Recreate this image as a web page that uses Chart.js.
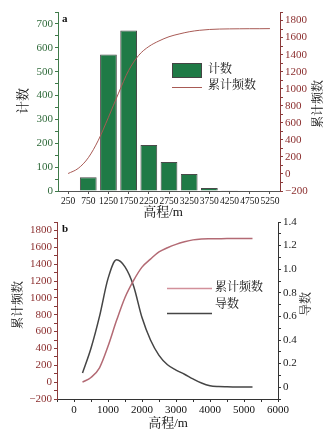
<!DOCTYPE html>
<html lang="zh">
<head>
<meta charset="UTF-8">
<title>高程频数</title>
<script src="https://cdn.jsdelivr.net/npm/chart.js"></script>
<style>
    body { margin: 0; background: #fff; }
    #wrap { position: relative; width: 332px; height: 434px; overflow: hidden; }
    canvas { position: absolute; left: 0; }
    #chartA { top: 0; }
    #chartB { top: 212px; }
</style>
</head>
<body>
<div id="wrap">
    <canvas id="chartA" width="332" height="222"></canvas>
    <canvas id="chartB" width="332" height="222"></canvas>
</div>
<script>
// panel a: histogram (bin centres in m)
var elevBins = [250, 750, 1250, 1750, 2250, 2750, 3250, 3750, 4250, 4750, 5250];
var counts = [0, 58, 572, 672, 193, 122, 71, 13, 3, 2, 0];

// smooth curves, read every 250 m
var elevCurve = [250, 500, 750, 1000, 1250, 1500, 1750, 2000, 2250, 2500, 2750,
                 3000, 3250, 3500, 3750, 4000, 4250, 4500, 4750, 5000, 5250];
var cumA = [5, 65, 190, 396, 665, 948, 1214, 1392, 1495, 1560, 1610,
            1642, 1668, 1685, 1695, 1700, 1702, 1703, 1704, 1704, 1705];

// panel b
var cumB = [0, 55, 170, 425, 730, 1005, 1205, 1365, 1460, 1545, 1595,
            1635, 1665, 1688, 1698, 1701, 1702, 1703, 1703, 1703, 1704];
var derivB = [0.12, 0.33, 0.60, 0.92, 1.08, 1.02, 0.86, 0.59, 0.40, 0.27, 0.19,
              0.145, 0.11, 0.07, 0.035, 0.012, 0.005, 0.003, 0.002, 0.001, 0.001];

// tick labels
var countTicks = [0, 100, 200, 300, 400, 500, 600, 700];
var cumTicks = [-200, 0, 200, 400, 600, 800, 1000, 1200, 1400, 1600, 1800];
var elevTicks = [0, 1000, 2000, 3000, 4000, 5000, 6000];
var derivTicks = [0, 0.2, 0.4, 0.6, 0.8, 1.0, 1.2, 1.4];

var SERIF = '"Liberation Serif", "Noto Serif CJK SC", "Noto Sans CJK SC", serif';
Chart.defaults.font.family = SERIF;

function withMinor(majors, lo, hi) {
    // majors plus midpoints between them
    var step = majors[1] - majors[0];
    var out = [];
    for (var v = majors[0] - step / 2; v <= majors[majors.length - 1] + step / 2 + 1e-9; v += step / 2) {
        if (v >= lo - 1e-9 && v <= hi + 1e-9) out.push(Math.round(v * 1000) / 1000);
    }
    return out;
}

function isMajor(majors, v) {
    return majors.some(function (m) { return Math.abs(m - v) < 1e-6; });
}

function fmt(v) {
    return String(v).replace('-', '\u2212');
}

function vText(ctx, text, x, y, size) {
    ctx.save();
    ctx.translate(x, y);
    ctx.rotate(-Math.PI / 2);
    ctx.font = size + 'px ' + SERIF;
    ctx.textAlign = 'center';
    ctx.textBaseline = 'middle';
    ctx.fillStyle = '#111';
    ctx.fillText(text, 0, 0);
    ctx.restore();
}

function hText(ctx, text, x, y, size, align, bold) {
    ctx.save();
    ctx.font = (bold ? 'bold ' : '') + size + 'px ' + SERIF;
    ctx.textAlign = align;
    ctx.textBaseline = 'middle';
    ctx.fillStyle = '#111';
    ctx.fillText(text, x, y);
    ctx.restore();
}

var GREEN = '#1f7a46';
var GREEN_AX = '#3f7a4a';
var BROWN_AX = '#8b3a3a';
var CUM_A = '#a85a55';
var CUM_B = '#b36a74';
var DERIV = '#454545';

var textA = {
    id: 'textA',
    afterDraw: function (chart) {
        var ctx = chart.ctx;
        hText(ctx, 'a', 62, 19, 11, 'left', true);
        vText(ctx, '计数', 24, 101, 13);
        vText(ctx, '累计频数', 319, 104, 12);
        hText(ctx, '高程/m', 163, 213, 13, 'center');
        // legend
        ctx.save();
        ctx.fillStyle = GREEN;
        ctx.strokeStyle = '#444';
        ctx.lineWidth = 1;
        ctx.fillRect(172, 63, 30, 15);
        ctx.strokeRect(172.5, 63.5, 29, 14);
        ctx.strokeStyle = CUM_A;
        ctx.beginPath();
        ctx.moveTo(172, 87.5);
        ctx.lineTo(202, 87.5);
        ctx.stroke();
        ctx.restore();
        hText(ctx, '计数', 208, 70, 12, 'left');
        hText(ctx, '累计频数', 208, 86, 12, 'left');
    }
};

var textB = {
    id: 'textB',
    afterDraw: function (chart) {
        var ctx = chart.ctx;
        hText(ctx, 'b', 62, 17, 11, 'left', true);
        vText(ctx, '累计频数', 19, 93, 12);
        vText(ctx, '导数', 307, 92, 12);
        hText(ctx, '高程/m', 168, 212, 13, 'center');
        ctx.save();
        ctx.lineWidth = 1.5;
        ctx.strokeStyle = '#d2909a';
        ctx.beginPath();
        ctx.moveTo(167, 76.5);
        ctx.lineTo(212, 76.5);
        ctx.stroke();
        ctx.strokeStyle = DERIV;
        ctx.beginPath();
        ctx.moveTo(167, 101.5);
        ctx.lineTo(212, 101.5);
        ctx.stroke();
        ctx.restore();
        hText(ctx, '累计频数', 215, 76, 12, 'left');
        hText(ctx, '导数', 215, 93, 12, 'left');
    }
};

function yAxis(pos, min, max, majors, color, labelColor, width, format) {
    return {
        position: pos,
        min: min,
        max: max,
        afterBuildTicks: function (s) {
            s.ticks = withMinor(majors, min, max).map(function (v) { return { value: v }; });
        },
        afterFit: function (s) { s.width = width; },
        ticks: {
            autoSkip: false,
            color: labelColor,
            font: { size: 11 },
            padding: 2,
            callback: function (v) { return isMajor(majors, v) ? format(v) : ''; }
        },
        grid: { drawOnChartArea: false, tickLength: 3, color: color },
        border: { color: color, width: 1 }
    };
}

var chartA = new Chart(document.getElementById('chartA').getContext('2d'), {
    type: 'bar',
    data: {
        datasets: [{
            label: '计数',
            data: elevBins.map(function (x, i) { return { x: x, y: counts[i] }; }),
            backgroundColor: GREEN,
            borderColor: '#4a4a4a',
            borderWidth: 1,
            barPercentage: 0.83,
            categoryPercentage: 1,
            grouped: false,
            yAxisID: 'y',
            order: 2
        }, {
            type: 'line',
            label: '累计频数',
            data: elevCurve.map(function (x, i) { return { x: x, y: cumA[i] }; }),
            yAxisID: 'y2',
            borderColor: CUM_A,
            borderWidth: 1,
            pointRadius: 0,
            cubicInterpolationMode: 'monotone',
            order: 1
        }]
    },
    options: {
        responsive: false,
        animation: false,
        layout: { padding: { top: 12, left: 0, right: 0, bottom: 0 } },
        plugins: { legend: { display: false }, tooltip: { enabled: false } },
        scales: {
            x: {
                type: 'linear',
                min: 0,
                max: 5500,
                offset: false,
                afterBuildTicks: function (s) {
                    s.ticks = elevBins.map(function (v) { return { value: v }; });
                },
                afterFit: function (s) { s.height = 31; },
                grid: { offset: false, drawOnChartArea: false, tickLength: 3, color: '#555' },
                border: { color: '#555', width: 1 },
                ticks: {
                    color: '#111', font: { size: 9.5 }, maxRotation: 0, autoSkip: false, padding: 2,
                    callback: function (v) { return String(v); }
                }
            },
            y: yAxis('left', 0, 750, countTicks, GREEN_AX, '#2f6a3a', 58, fmt),
            y2: yAxis('right', -200, 1900, cumTicks, BROWN_AX, '#8b2e2e', 52, fmt)
        }
    },
    plugins: [textA]
});

var chartB = new Chart(document.getElementById('chartB').getContext('2d'), {
    type: 'line',
    data: {
        datasets: [{
            label: '累计频数',
            data: elevCurve.map(function (x, i) { return { x: x, y: cumB[i] }; }),
            yAxisID: 'y',
            borderColor: CUM_B,
            borderWidth: 1.5,
            pointRadius: 0,
            cubicInterpolationMode: 'monotone'
        }, {
            label: '导数',
            data: elevCurve.map(function (x, i) { return { x: x, y: derivB[i] }; }),
            yAxisID: 'y2',
            borderColor: DERIV,
            borderWidth: 1.5,
            pointRadius: 0,
            cubicInterpolationMode: 'monotone'
        }]
    },
    options: {
        responsive: false,
        animation: false,
        layout: { padding: { top: 10, left: 0, right: 0, bottom: 0 } },
        plugins: { legend: { display: false }, tooltip: { enabled: false } },
        scales: {
            x: {
                type: 'linear',
                min: -500,
                max: 6000,
                afterBuildTicks: function (s) {
                    s.ticks = withMinor(elevTicks, -500, 6000).map(function (v) { return { value: v }; });
                },
                afterFit: function (s) { s.height = 35; },
                ticks: {
                    autoSkip: false,
                    maxRotation: 0,
                    color: '#111',
                    font: { size: 11 },
                    padding: 2,
                    callback: function (v) { return isMajor(elevTicks, v) ? String(v) : ''; }
                },
                grid: { drawOnChartArea: false, tickLength: 3, color: '#333' },
                border: { color: '#333', width: 1 }
            },
            y: yAxis('left', -200, 1900, cumTicks, BROWN_AX, '#8b2e2e', 57, fmt),
            y2: yAxis('right', -0.1, 1.4, derivTicks, '#333', '#222', 54, function (v) {
                return v === 0 ? '0' : v.toFixed(1);
            })
        }
    },
    plugins: [textB]
});
</script>
</body>
</html>
